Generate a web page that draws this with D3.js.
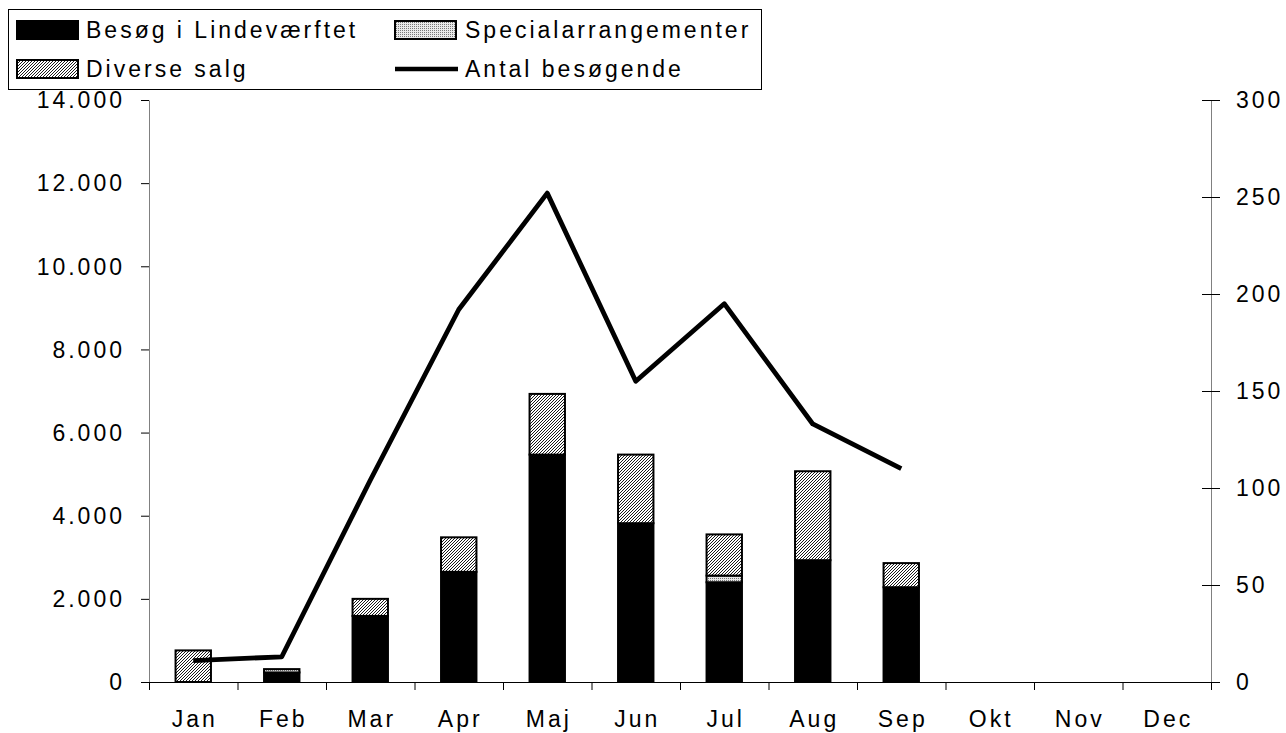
<!DOCTYPE html>
<html>
<head>
<meta charset="utf-8">
<script src="https://cdn.jsdelivr.net/npm/d3@7"></script>
<style>
  body { margin: 0; background: #fff; }
  text { font-family: "Liberation Sans", Arial, sans-serif; font-size: 23px; letter-spacing: 3px; fill: #000; }
</style>
</head>
<body>
<svg id="chart" width="1286" height="733"></svg>
<script>
// data
const months = ["Jan", "Feb", "Mar", "Apr", "Maj", "Jun", "Jul", "Aug", "Sep", "Okt", "Nov", "Dec"];
const besoeg = [0, 230, 1590, 2650, 5470, 3820, 2400, 2930, 2280, 0, 0, 0];
const special = [0, 80, 0, 0, 0, 0, 160, 0, 0, 0, 0, 0];
const diverse = [760, 0, 410, 830, 1460, 1650, 990, 2140, 580, 0, 0, 0];
const antal = [11, 13, 104, 192, 252, 155, 195, 133, 110, null, null, null];
const leftTicks = [0, 2000, 4000, 6000, 8000, 10000, 12000, 14000];
const rightTicks = [0, 50, 100, 150, 200, 250, 300];

const svg = d3.select("#chart");
const plotLeft = 149, plotRight = 1211, plotTop = 100, plotBottom = 682;

// patterns for the bar fills
const defs = svg.append("defs");
const hatch = defs.append("pattern").attr("id", "hatch")
    .attr("patternUnits", "userSpaceOnUse").attr("width", 3).attr("height", 3);
hatch.append("rect").attr("width", 3).attr("height", 3).attr("fill", "#fff");
hatch.append("path").attr("d", "M-1,1 l2,-2 M0,3 l3,-3 M2,4 l2,-2")
    .attr("stroke", "#000").attr("stroke-width", 0.9);
const dots = defs.append("pattern").attr("id", "dots")
    .attr("patternUnits", "userSpaceOnUse").attr("width", 2).attr("height", 2);
dots.append("rect").attr("width", 2).attr("height", 2).attr("fill", "#e8e8e8");
dots.append("rect").attr("width", 1).attr("height", 1).attr("fill", "#777");

const fills = { besoeg: "#000", special: "url(#dots)", diverse: "url(#hatch)" };

const x = d3.scaleBand().domain(months).range([plotLeft, plotRight]).paddingInner(0.6).paddingOuter(0.3);
const xEdge = d3.scaleLinear().domain([0, 12]).range([plotLeft, plotRight]);
const y = d3.scaleLinear().domain([0, 14000]).range([plotBottom, plotTop]);
const y2 = d3.scaleLinear().domain([0, 300]).range([plotBottom, plotTop]);

const fmt = d => d3.format(",")(d).replace(/,/g, ".");

// left axis
const gL = svg.append("g").attr("transform", `translate(${plotLeft},0)`)
    .call(d3.axisLeft(y).tickValues(leftTicks).tickSize(8).tickSizeOuter(0).tickFormat(""));
gL.select(".domain").attr("stroke", "#808080");
gL.selectAll(".tick line").attr("stroke", "#000");
svg.append("g").selectAll("text").data(leftTicks).join("text")
    .attr("x", 125).attr("y", d => y(d)).attr("dy", "0.36em")
    .attr("text-anchor", "end").text(fmt);

// right axis
const gR = svg.append("g").attr("transform", `translate(${plotRight},0)`)
    .call(d3.axisRight(y2).tickValues(rightTicks).tickSize(9).tickSizeOuter(0).tickFormat(""));
gR.select(".domain").attr("stroke", "#808080");
gR.selectAll(".tick line").attr("x1", -9).attr("stroke", "#000");
svg.append("g").selectAll("text").data(rightTicks).join("text")
    .attr("x", 1236).attr("y", d => y2(d)).attr("dy", "0.36em").text(d => d);

// bottom axis, ticks between categories
const gB = svg.append("g").attr("transform", `translate(0,${plotBottom})`)
    .call(d3.axisBottom(xEdge).tickValues(d3.range(13)).tickSize(8).tickSizeOuter(0).tickFormat(""));
gB.selectAll("line, path").attr("stroke", "#000");
svg.append("g").selectAll("text").data(months).join("text")
    .attr("x", d => x(d) + x.bandwidth() / 2 + 1.5).attr("y", 727)
    .attr("text-anchor", "middle").text(d => d);

// stacked bars
const rows = months.map((m, i) => ({ month: m, besoeg: besoeg[i], special: special[i], diverse: diverse[i] }));
const series = d3.stack().keys(["besoeg", "special", "diverse"])(rows);
svg.append("g").selectAll("g").data(series).join("g")
    .attr("fill", s => fills[s.key])
  .selectAll("rect").data(s => s.filter(d => d[1] > d[0])).join("rect")
    .attr("x", d => x(d.data.month))
    .attr("width", x.bandwidth())
    .attr("y", d => y(d[1]))
    .attr("height", d => y(d[0]) - y(d[1]))
    .attr("stroke", "#000").attr("stroke-width", 2);

// visitor line on the right axis
const line = d3.line()
    .defined(d => d != null)
    .x((d, i) => x(months[i]) + x.bandwidth() / 2)
    .y(d => y2(d));
svg.append("path").datum(antal).attr("d", line)
    .attr("fill", "none").attr("stroke", "#000").attr("stroke-width", 4.8)
    .attr("stroke-linejoin", "round");

// legend
const lg = svg.append("g");
lg.append("rect").attr("x", 8.5).attr("y", 9.5).attr("width", 753).attr("height", 80)
    .attr("fill", "#fff").attr("stroke", "#000").attr("stroke-width", 1);
const legendItems = [
  { label: "Besøg i Lindeværftet", fill: fills.besoeg, sx: 17, tx: 86, row: 0 },
  { label: "Specialarrangementer", fill: fills.special, sx: 395, tx: 465, row: 0 },
  { label: "Diverse salg", fill: fills.diverse, sx: 17, tx: 86, row: 1 },
  { label: "Antal besøgende", line: true, sx: 395, tx: 465, row: 1 }
];
legendItems.forEach(it => {
  const cy = it.row === 0 ? 30 : 69;
  if (it.line) {
    lg.append("line").attr("x1", it.sx).attr("x2", it.sx + 63).attr("y1", cy).attr("y2", cy)
        .attr("stroke", "#000").attr("stroke-width", 4.5);
  } else {
    lg.append("rect").attr("x", it.sx).attr("y", cy - 9).attr("width", 61).attr("height", 18)
        .attr("fill", it.fill).attr("stroke", "#000").attr("stroke-width", 2);
  }
  lg.append("text").attr("x", it.tx).attr("y", cy + 8).text(it.label);
});
</script>
</body>
</html>
